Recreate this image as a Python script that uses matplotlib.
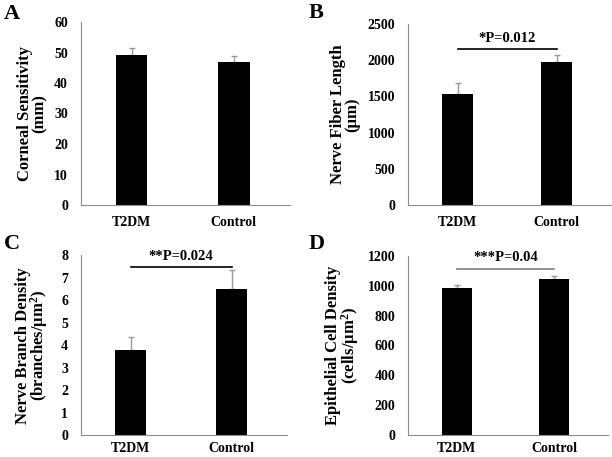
import matplotlib
matplotlib.use("Agg")
import matplotlib.pyplot as plt

plt.rcParams['font.family'] = ['Liberation Serif', 'DejaVu Serif']
plt.rcParams['font.weight'] = 'bold'
plt.rcParams['mathtext.fontset'] = 'custom'
plt.rcParams['mathtext.rm'] = 'Liberation Serif:bold'
plt.rcParams['mathtext.it'] = 'Liberation Serif:bold'

categories = ["T2DM", "Control"]

a_values = [49.1, 46.8]
a_err = [2.3, 1.9]
b_values = [1529, 1971]
b_err = [152, 97]
c_values = [3.78, 6.49]
c_err = [0.58, 0.84]
d_values = [987, 1046]
d_err = [20, 22]

W, H = 612, 457
panels = [
    dict(letter="A", values=a_values, err=a_err, ylim=(0, 60), ticks=[0, 10, 20, 30, 40, 50, 60],
         ylabel="Corneal Sensitivity\n(mm)", sig=None,
         box=(80.5, 22, 290, 205), lab_off=48, letter_xy=(4, 19), xpad=8),
    dict(letter="B", values=b_values, err=b_err, ylim=(0, 2500), ticks=[0, 500, 1000, 1500, 2000, 2500],
         ylabel="Nerve Fiber Length\n(μm)", sig=("*P=0.012", 2150, 'black'),
         box=(408, 24, 611, 205), lab_off=63, letter_xy=(309, 18), xpad=8),
    dict(letter="C", values=c_values, err=c_err, ylim=(0, 8), ticks=[0, 1, 2, 3, 4, 5, 6, 7, 8],
         ylabel="Nerve Branch Density\n(branches/μm$^2$)", sig=("**P=0.024", 7.48, 'black'),
         box=(80.5, 255.3, 287, 435.3), lab_off=48, letter_xy=(4, 249), xpad=5),
    dict(letter="D", values=d_values, err=d_err, ylim=(0, 1200), ticks=[0, 200, 400, 600, 800, 1000, 1200],
         ylabel="Epithelial Cell Density\n(cells/μm$^2$)", sig=("***P=0.04", 1113, '#808080'),
         box=(408, 256, 608, 434.7), lab_off=65, letter_xy=(309, 249), xpad=5),
]

fig = plt.figure(figsize=(W / 100, H / 100), dpi=100)
x = [0, 1]
for p in panels:
    x0, y0, x1, y1 = p["box"]
    ax = fig.add_axes([x0 / W, 1 - y1 / H, (x1 - x0) / W, (y1 - y0) / H])
    ax.bar(x, p["values"], width=0.31, color='black', zorder=2)
    ax.errorbar(x, p["values"], yerr=[[0, 0], p["err"]], fmt='none', ecolor='#999999',
                elinewidth=1, capsize=2.5, capthick=1, zorder=1)
    ax.set_ylim(*p["ylim"])
    ax.set_yticks(p["ticks"])
    ax.set_xlim(-0.5, 1.55)
    ax.set_xticks(x)
    ax.set_xticklabels(categories)
    ax.tick_params(axis='y', length=0, labelsize=10, pad=9)
    ax.tick_params(axis='x', length=0, labelsize=10, pad=p["xpad"])
    for s in ['top', 'right']:
        ax.spines[s].set_visible(False)
    for s in ['left', 'bottom']:
        ax.spines[s].set_color('#8c8c8c')
        ax.spines[s].set_linewidth(0.8)
    ax.set_ylabel(p["ylabel"], fontsize=12, fontweight='bold', linespacing=0.85, va='center')
    ax.yaxis.set_label_coords(-p["lab_off"] / (x1 - x0), 0.5)
    if p["sig"]:
        text, yv, col = p["sig"]
        ax.plot([0, 1], [yv, yv], color=col, lw=1.2, clip_on=False)
        ax.text(0.5, yv + (p["ylim"][1] * 0.025), text, ha='center', va='bottom',
                fontsize=10.5, fontweight='bold')
    lx, ly = p["letter_xy"]
    fig.text(lx / W, 1 - ly / H, p["letter"], fontsize=16, fontweight='bold',
             ha='left', va='baseline')

fig.savefig("out.png", dpi=100)
